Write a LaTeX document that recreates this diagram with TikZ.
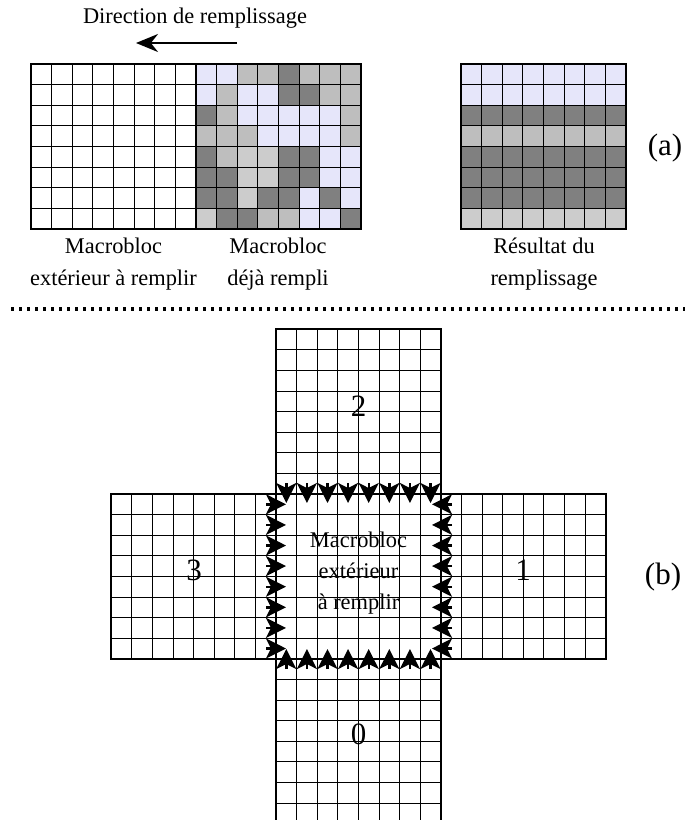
\documentclass[tikz,border=0pt]{standalone}
\usepackage{fontspec}
\setmainfont{Liberation Serif}
\usetikzlibrary{arrows.meta}

\definecolor{colL}{RGB}{230,230,250}
\definecolor{colM}{RGB}{190,190,190}
\definecolor{colC}{RGB}{204,204,204}
\definecolor{colD}{RGB}{128,128,128}

\def\pas{20.6}

% grille 8x8, coin haut gauche en (#1,#2)
\newcommand\grille[2]{%
  \foreach \k in {1,...,7}{
    \draw[fin] (#1+\k*\pas,#2) -- ++(0,8*\pas);
    \draw[fin] (#1,#2+\k*\pas) -- ++(8*\pas,0);
  }
  \draw[epais] (#1,#2) rectangle ++(8*\pas,8*\pas);
}

\begin{document}
\begin{tikzpicture}[x=0.5pt,y=-0.5pt,>=Stealth,
  fin/.style={line width=0.5pt},
  epais/.style={line width=1.1pt},
  texte/.style={font=\fontsize{11.2}{16}\selectfont,align=center},
  grand/.style={font=\fontsize{15.5}{18}\selectfont},
  fleche/.style={line width=1.2pt,-{Stealth[length=10pt,width=10pt,inset=2.5pt]}},
  pointille/.style={line width=1.7pt,dash pattern=on 1.7pt off 2.3pt}]
  \useasboundingbox (0,0) rectangle (685,820);

  % (a)
  \node[texte] (titre) at (195,18) {Direction de remplissage};
  \coordinate (dir-debut) at (237,43);
  \coordinate (dir-fin) at (136,43);
  \draw[-{Stealth[length=11pt,width=9pt]},line width=1pt] (dir-debut) -- (dir-fin);

  \foreach \ligne [count=\r from 0] in {%
      {L,L,M,M,D,M,M,M},{L,M,L,L,D,D,M,M},{D,M,L,L,L,L,L,M},{M,M,M,L,L,L,L,M},
      {D,M,C,C,D,D,L,L},{D,D,C,C,D,D,L,L},{D,D,C,D,D,L,D,L},{C,D,D,M,M,L,L,D}}{
    \foreach \c [count=\s from 0] in \ligne
      \fill[col\c] (196+\s*\pas,64+\r*\pas) rectangle ++(\pas,\pas);
  }
  \foreach \c [count=\r from 0] in {L,L,D,M,D,D,D,C}
    \fill[col\c] (461,64+\r*\pas) rectangle ++(8*\pas,\pas);

  \grille{31}{64}
  \grille{196}{64}
  \grille{461}{64}

  \node[texte] (lbl-ext) at (113.5,264) {Macrobloc\\extérieur à remplir};
  \node[texte] (lbl-rempli) at (278,264) {Macrobloc\\déjà rempli};
  \node[texte] (lbl-res) at (544,264) {Résultat du\\remplissage};
  \node[grand] (lbl-a) at (665,148) {(a)};

  \coordinate (sep-g) at (11,309);
  \coordinate (sep-d) at (688,309);
  \draw[pointille] (sep-g) -- (sep-d);

  % (b)
  \grille{276}{494-8*\pas}
  \grille{276-8*\pas}{494}
  \grille{276}{494}
  \grille{276+8*\pas}{494}
  \grille{276}{494+8*\pas}

  \node[grand] (num2) at (358.5,406) {2};
  \node[grand] (num3) at (194,570) {3};
  \node[grand] (num1) at (523,570) {1};
  \node[grand] (num0) at (358.5,734) {0};
  \node[texte,font=\fontsize{11.2}{15.5}\selectfont] (centre) at (358.5,573)
    {Macrobloc\\extérieur\\à remplir};
  \node[grand] (lbl-b) at (663,577) {(b)};

  \foreach \k in {0,...,7}{
    \draw[fleche] (276+\k*\pas+0.5*\pas,483) -- ++(0,20);
    \draw[fleche] (276+\k*\pas+0.5*\pas,669) -- ++(0,-20);
    \draw[fleche] (266,494+\k*\pas+0.5*\pas) -- ++(20,0);
    \draw[fleche] (452,494+\k*\pas+0.5*\pas) -- ++(-20,0);
  }
\end{tikzpicture}
\end{document}
